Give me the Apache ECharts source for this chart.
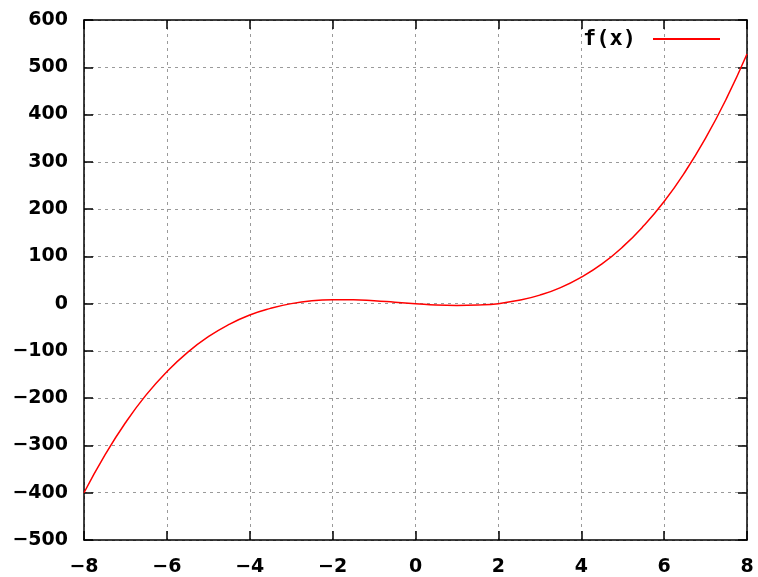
<!DOCTYPE html>
<html>
<head>
<meta charset="utf-8">
<script src="https://cdn.jsdelivr.net/npm/echarts@6/dist/echarts.min.js"></script>
<style>html,body{margin:0;padding:0;background:#fff;}#c{width:758px;height:577px;}</style>
</head>
<body>
<div id="c"></div>
<script>
var seriesName = 'f(x)';
var xValues = [-8,-7.5,-7,-6.5,-6,-5.5,-5,-4.5,-4,-3.5,-3,-2.5,-2,-1.5,-1,-0.5,0,0.5,1,1.5,2,2.5,3,3.5,4,4.5,5,5.5,6,6.5,7,7.5,8];
var yValues = [-400,-321,-252,-193,-144,-103,-70,-44,-24,-10,0,6,8,8,6,3,0,-3,-4,-3,0,7,18,34,56,84,120,164,216,278,350,433,528];
var xTicks = {min:-8, max:8, step:2};
var yTicks = {min:-500, max:600, step:100};

var data = xValues.map(function(x,i){return [x, yValues[i]];});
function fmt(v){ return String(v).replace('-', '\u2212'); }
var labelFont = {fontFamily:'DejaVu Sans', fontWeight:'bold', fontSize:19, color:'#000', formatter:fmt};
var gridLine = {show:true, lineStyle:{color:'#9a9a9a', type:[3,4], width:1}};
var axisLine = {show:true, onZero:false, lineStyle:{color:'#000', width:1.5}};
var tick = {show:true, inside:true, length:9, lineStyle:{color:'#000', width:1.5}};

var chart = echarts.init(document.getElementById('c'), null, {renderer:'canvas'});
chart.setOption({
  animation:false,
  backgroundColor:'#fff',
  grid:{left:84, right:11, top:20, bottom:37},
  legend:{
    show:true, right:38, top:28, align:'right', padding:0,
    itemWidth:67, itemHeight:2, icon:'rect',
    textStyle:{fontFamily:'DejaVu Sans Mono', fontWeight:'bold', fontSize:22, color:'#000', padding:[0,12,0,0]},
    data:[{name:seriesName, icon:'rect'}]
  },
  xAxis:[
    {type:'value', min:xTicks.min, max:xTicks.max, interval:xTicks.step, position:'bottom',
     axisLine:axisLine, axisTick:tick, splitLine:gridLine,
     axisLabel:Object.assign({margin:18}, labelFont)},
    {type:'value', min:xTicks.min, max:xTicks.max, interval:xTicks.step, position:'top',
     axisLine:axisLine, axisTick:tick, splitLine:{show:false}, axisLabel:{show:false}}
  ],
  yAxis:[
    {type:'value', min:yTicks.min, max:yTicks.max, interval:yTicks.step, position:'left',
     axisLine:axisLine, axisTick:tick, splitLine:gridLine,
     axisLabel:Object.assign({margin:16}, labelFont)},
    {type:'value', min:yTicks.min, max:yTicks.max, interval:yTicks.step, position:'right',
     axisLine:axisLine, axisTick:tick, splitLine:{show:false}, axisLabel:{show:false}}
  ],
  series:[{
    name:seriesName, type:'line', data:data, smooth:true, showSymbol:false, symbol:'none',
    lineStyle:{color:'#ff0000', width:1.5}, itemStyle:{color:'#ff0000'},
    xAxisIndex:0, yAxisIndex:0
  }]
});
</script>
</body>
</html>
